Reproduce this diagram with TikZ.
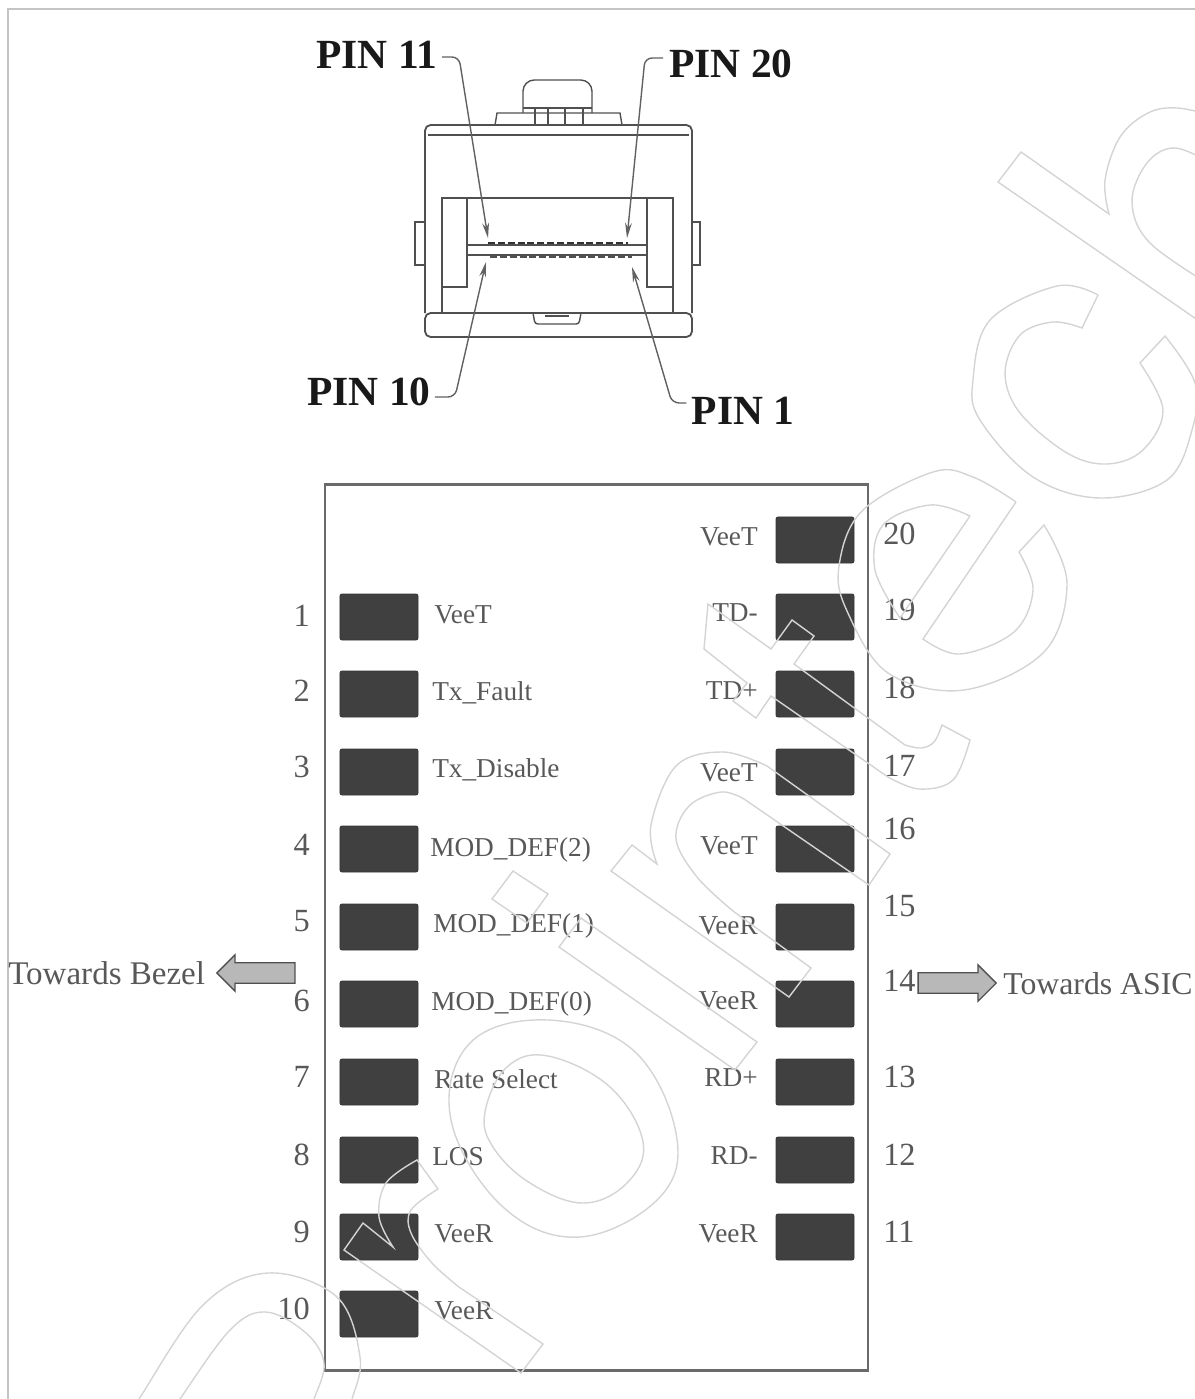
\documentclass[tikz,border=0pt]{standalone}
\usepackage{fontspec}
\setmainfont{Liberation Serif}
\usetikzlibrary{calc,arrows.meta,shapes.arrows}
\definecolor{pad}{HTML}{404040}
\definecolor{boxline}{HTML}{6a6a6a}
\definecolor{labelgray}{HTML}{585858}
\definecolor{housing}{HTML}{505050}
\definecolor{mark}{HTML}{d4d4d4}
\definecolor{frameline}{HTML}{c4c4c4}
\definecolor{flow}{HTML}{b8b8b8}

\begin{document}
\begin{tikzpicture}[
		x=0.025cm, y=-0.025cm,		% one unit is one pixel of the sheet
		>=stealth,
		padbox/.style={draw=pad!85!black, fill=pad, rounded corners=1.5pt, line width=0.6pt, minimum width=1.95cm, minimum height=1.15cm, inner sep=0pt},
		pinlabel/.style={font=\fontsize{29.5}{30}\selectfont\bfseries, inner sep=0pt, text=black!90},
		padlabel/.style={font=\fontsize{19.4}{20}\selectfont, inner sep=0pt, text=labelgray, text height=12.8pt, text depth=0pt},
		padnum/.style={font=\fontsize{23}{24}\selectfont, inner sep=0pt, text=labelgray, text height=15.6pt, text depth=0pt},
		sidelabel/.style={font=\fontsize{23.5}{24}\selectfont, inner sep=0pt, text=labelgray},
		flowarrow/.style={draw=housing, fill=flow, line width=0.9pt, single arrow, single arrow head extend=0.2cm, minimum height=1.95cm, inner sep=0.24cm},
		leader/.style={draw=housing!90, line width=1pt, rounded corners=5pt, -{Stealth[length=0.38cm,width=0.17cm]}},
		housingline/.style={draw=housing, line width=1pt},
		wmark/.style={draw=mark, line width=1pt}
	]
	\useasboundingbox (0,0) rectangle (1195,1399);

	% Sheet edge
	\draw[frameline, line width=1pt] (8,1399) -- (8,9) -- (1195,9);

	% Connector housing
	\draw[housingline, rounded corners=4pt, line width=1.3pt] (425,313) -- (425,125) -- (692,125) -- (692,313);
	\draw[housingline] (428,135) -- (689,135);
	\draw[housingline, rounded corners=4pt, line width=1.3pt] (425,313) -- (425,337) -- (692,337) -- (692,313) -- cycle;
	\draw[housingline, line width=1.3pt] (442,313) -- (442,198) -- (673,198) -- (673,313);
	\draw[housingline] (467,198) -- (467,287) -- (442,287);
	\draw[housingline] (647,198) -- (647,287) -- (673,287);
	\draw[housingline] (467,245) rectangle (647,255);
	\draw[housingline] (425,222) -- (415,222) -- (415,265) -- (425,265);
	\draw[housingline] (692,222) -- (700,222) -- (700,265) -- (692,265);
	\draw[housingline, rounded corners=8pt] (523,113) -- (523,80) -- (592,80) -- (592,113);
	\draw[housingline] (523,108) -- (592,108);
	\draw[housingline] (495,125) -- (497,113) -- (620,113) -- (622,125);
	\foreach \xs in {535,548,565,583}
		\draw[housingline] (\xs,108) -- (\xs,125);
	\draw[housingline, rounded corners=2pt] (533,313) -- (535,324) -- (579,324) -- (581,313);
	\draw[housingline] (545,316) -- (569,316);
	\draw[black!80, line width=1.8pt, dash pattern=on 5pt off 2pt] (488,243) -- (628,243);
	\draw[housing, line width=1.3pt, dash pattern=on 5pt off 2pt] (490,257) -- (632,257);

	% Pin callouts
	\node[pinlabel] (pin11) at (377,55) {PIN 11};
	\node[pinlabel] (pin20) at (731,64) {PIN 20};
	\node[pinlabel] (pin10) at (369,392) {PIN 10};
	\node[pinlabel] (pin1) at (743,411) {PIN 1};
	\coordinate (tip11) at (488,238);
	\coordinate (tip20) at (627,238);
	\coordinate (tip10) at (486,262);
	\coordinate (tip1) at (632,267);
	\draw[leader] (pin11.east) ++(4,2) -- (459,57) -- (tip11);
	\draw[leader] (pin20.west) ++(-6,-6) -- (645,58) -- (tip20);
	\draw[leader] (pin10.east) ++(4,5) -- (455,397) -- (tip10);
	\draw[leader] (pin1.west) ++(-5,-8) -- (672,403) -- (tip1);

	% Board outline
	\node[draw=boxline, line width=2pt, minimum width=13.575cm, minimum height=22.125cm, inner sep=0pt] (board) at (596.5,927.5) {};

	% Left row: pad y / number y / label x / label y / signal
	\foreach \n/\ypad/\ynum/\xlab/\ylab/\sig in {
		1/617/616/434/614/VeeT,
		2/694/691/432/691/Tx\_Fault,
		3/772/767/432/768/Tx\_Disable,
		4/849/845/430/847/MOD\_DEF(2),
		5/927/921/433/923/MOD\_DEF(1),
		6/1004/1001/431/1001/MOD\_DEF(0),
		7/1082/1077/434/1079/Rate Select,
		8/1160/1155/432/1156/LOS,
		9/1237/1232/434/1233/VeeR,
		10/1314/1309/434/1310/VeeR}{
		\node[padbox] (pad\n) at (379,\ypad) {};
		\node[padnum, anchor=east] (num\n) at (310,\ynum) {\n};
		\node[padlabel, anchor=west] (sig\n) at (\xlab,\ylab) {\sig};
	}

	% Right row
	\foreach \n/\ypad/\ynum/\ylab/\sig in {
		20/540/534/536/VeeT,
		19/617/610/612/TD-,
		18/694/688/690/TD+,
		17/772/766/772/VeeT,
		16/849/829/845/VeeT,
		15/927/906/925/VeeR,
		14/1004/981/1000/VeeR,
		13/1082/1077/1077/RD+,
		12/1160/1155/1155/RD-,
		11/1237/1232/1233/VeeR}{
		\node[padbox] (pad\n) at (815,\ypad) {};
		\node[padnum, anchor=west] (num\n) at (883,\ynum) {\n};
		\node[padlabel, anchor=east] (sig\n) at (758,\ylab) {\sig};
	}

	% Direction arrows
	\node[sidelabel, anchor=west] (bezel) at (8,973) {Towards Bezel};
	\node[flowarrow, shape border rotate=180] (bezelarrow) at (261,973) {};
	\node[flowarrow] (asicarrow) at (952,983) {};
	\node[sidelabel, anchor=west, font=\fontsize{22.6}{24}\selectfont] (asic) at (1003,984) {Towards ASIC};

	% Outline lettering over the sheet
	\begin{scope}
		\clip (0,0) rectangle (1195,1399);
		% p
		\draw[wmark] plot[smooth, tension=0.6] coordinates {(120,1430) (139,1399) (203,1305) (268,1273) (337,1297) (360,1357) (352,1399) (340,1430)};
		\draw[wmark] plot[smooth, tension=0.6] coordinates {(160,1430) (180,1399) (230,1330) (266,1312) (306,1333) (324,1363) (314,1399) (300,1430)};
		% r
		\draw[wmark] (543,1344) -- (521,1373) -- (344,1250) -- (363,1223) -- (393,1247) -- plot[smooth, tension=0.6] coordinates {(393,1247) (379,1217) (386,1183) (417,1160)} -- (438,1189) -- plot[smooth, tension=0.6] coordinates {(438,1189) (411,1210) (411,1233) (432,1263) (459,1287)} -- cycle;
		% o
		\draw[wmark] plot[smooth cycle, tension=0.65] coordinates {(451,1120) (470,1043) (548,1020) (633,1050) (676,1133) (660,1197) (580,1237) (503,1207)};
		\draw[wmark] plot[smooth cycle, tension=0.65] coordinates {(485,1112) (507,1067) (548,1056) (610,1087) (643,1142) (627,1183) (583,1203) (530,1183) (493,1147)};
		% l
		\draw[wmark] (559,947) -- (581,918) -- (757,1042) -- (735,1070) -- cycle;
		% i
		\draw[wmark] (492,899) -- (513,871) -- (548,894) -- (527,923) -- cycle;
		% n
		\draw[wmark] (611,871) -- (632,845) -- (657,864) -- plot[smooth, tension=0.6] coordinates {(657,864) (651,825) (676,766) (723,752) (767,766)} -- (890,854) -- (869,885) -- (744,799) -- plot[smooth, tension=0.6] coordinates {(744,799) (721,792) (689,806) (676,839) (697,877) (733,911)} -- (811,968) -- (789,997) -- cycle;
		% t
		\draw[wmark] (708,604) -- (704,649) -- (747,683) -- (733,701) -- (756,718) -- (771,696) -- (888,777) -- plot[smooth, tension=0.6] coordinates {(888,777) (919,789) (953,780) (970,740)} -- (942,725) -- plot[smooth, tension=0.6] coordinates {(942,725) (934,742) (921,748) (905,745)} -- (794,664) -- (814,636) -- (792,620) -- (771,649) -- cycle;
		% e
		\draw[wmark] (1016,502) -- (923,639) -- plot[smooth, tension=0.6] coordinates {(923,639) (960,654) (1014,632) (1033,590) (1019,552)} -- (1044,525) -- plot[smooth, tension=0.6] coordinates {(1044,525) (1067,583) (1044,652) (964,690) (888,673) (847,611) (839,566) (862,511) (933,472) (973,477) (1016,502)};
		\draw[wmark] (970,516) -- (900,618) -- plot[smooth, tension=0.6] coordinates {(900,618) (875,570) (883,525) (930,505) (970,516)};
		% c
		\draw[wmark] (1098,295) -- (1082,328) -- plot[smooth, tension=0.6] coordinates {(1082,328) (1053,322) (1020,335) (1005,373) (1020,413) (1067,453) (1107,464) (1143,450) (1163,410) (1140,363)} -- (1165,336) -- plot[smooth, tension=0.6] coordinates {(1165,336) (1195,383) (1192,430) (1167,480) (1100,498) (1033,477) (980,420) (973,380) (990,320) (1057,286) (1098,295)};
		% h
		\draw[wmark] (1215,332) -- (998,182) -- (1021,152) -- (1109,214) -- plot[smooth, tension=0.6] coordinates {(1109,214) (1105,180) (1120,137) (1148,113) (1177,108) (1215,116)};
		\draw[wmark] plot[smooth, tension=0.6] coordinates {(1215,165) (1175,148) (1147,163) (1132,202) (1150,243) (1215,288)};
	\end{scope}

\end{tikzpicture}
\end{document}
